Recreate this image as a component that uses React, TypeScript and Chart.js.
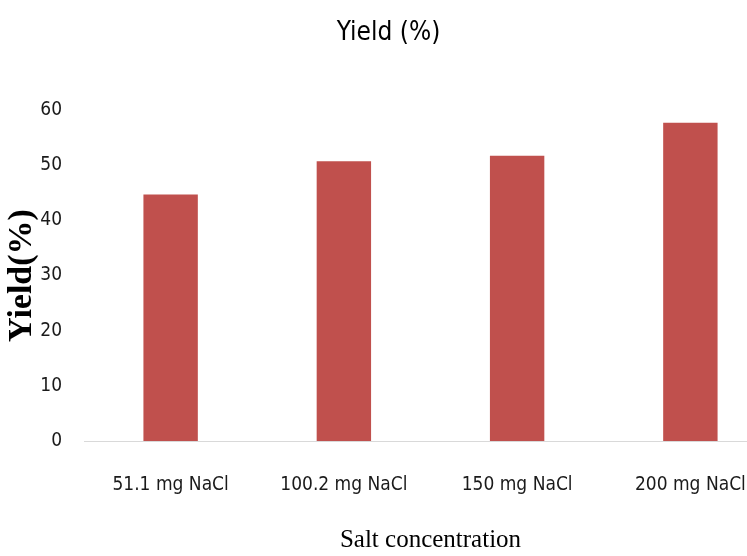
import React, { useEffect, useRef } from "react";
import { Chart, registerables } from "chart.js";

Chart.register(...registerables);

const categories = ["51.1 mg NaCl", "100.2 mg NaCl", "150 mg NaCl", "200 mg NaCl"];
const yieldValues = [44.7, 50.7, 51.7, 57.7];
const yTicks = [0, 10, 20, 30, 40, 50, 60];

const NARROW = '"Liberation Sans Narrow", "DejaVu Sans Condensed", "Roboto Condensed", "Liberation Sans", sans-serif';
const SERIF = '"Liberation Serif", "DejaVu Serif", serif';

const W = 780;
const H = 556;

export default function App() {
  const ref = useRef<HTMLCanvasElement | null>(null);

  useEffect(() => {
    document.body.style.overflow = "hidden";
    const canvas = ref.current;
    if (!canvas) return;
    const chart = new Chart(canvas, {
      type: "bar",
      data: {
        labels: categories,
        datasets: [
          {
            label: "Yield (%)",
            data: yieldValues,
            backgroundColor: "#C0504D",
            borderWidth: 0,
            barPercentage: 0.314,
            categoryPercentage: 1,
          },
        ],
      },
      options: {
        animation: false,
        responsive: false,
        layout: { padding: { left: 0, right: 3, top: 0, bottom: 0 } },
        plugins: {
          legend: { display: false },
          tooltip: { enabled: false },
          title: {
            display: true,
            text: "Yield (%)",
            color: "#000",
            font: { family: NARROW, size: 26, weight: "normal", lineHeight: 1.2 },
            padding: { top: 18, bottom: 60.8 },
          },
        },
        scales: {
          x: {
            afterFit: (scale: any) => {
              scale.height = 115;
            },
            grid: { display: true, color: "rgba(0,0,0,0)", drawTicks: false },
            border: { display: true, color: "#D9D9D9", width: 1 },
            ticks: {
              color: "#1a1a1a",
              padding: 33,
              maxRotation: 0,
              font: { family: NARROW, size: 19, lineHeight: 1.2 },
            },
            title: {
              display: true,
              text: "Salt concentration",
              color: "#000",
              font: { family: SERIF, size: 25, lineHeight: 1.2 },
              padding: { top: 0, bottom: 1 },
            },
          },
          y: {
            min: 0,
            max: 60,
            afterBuildTicks: (scale: any) => {
              scale.ticks = yTicks.map((v) => ({ value: v }));
            },
            afterFit: (scale: any) => {
              scale.width = 84;
            },
            grid: { display: false, drawTicks: false },
            border: { display: false },
            ticks: {
              color: "#1a1a1a",
              padding: 22,
              font: { family: NARROW, size: 19, lineHeight: 1.2 },
            },
            title: {
              display: true,
              text: "Yield(%)",
              color: "#000",
              font: { family: SERIF, size: 34, weight: "bold", lineHeight: 1 },
              padding: { top: 5, bottom: 0 },
            },
          },
        },
      },
    });
    return () => chart.destroy();
  }, []);

  return (
    <div style={{ position: "fixed", left: 0, top: 0, width: W, height: H, overflow: "hidden", background: "#fff" }}>
      <canvas ref={ref} width={W} height={H} style={{ display: "block" }} />
    </div>
  );
}
